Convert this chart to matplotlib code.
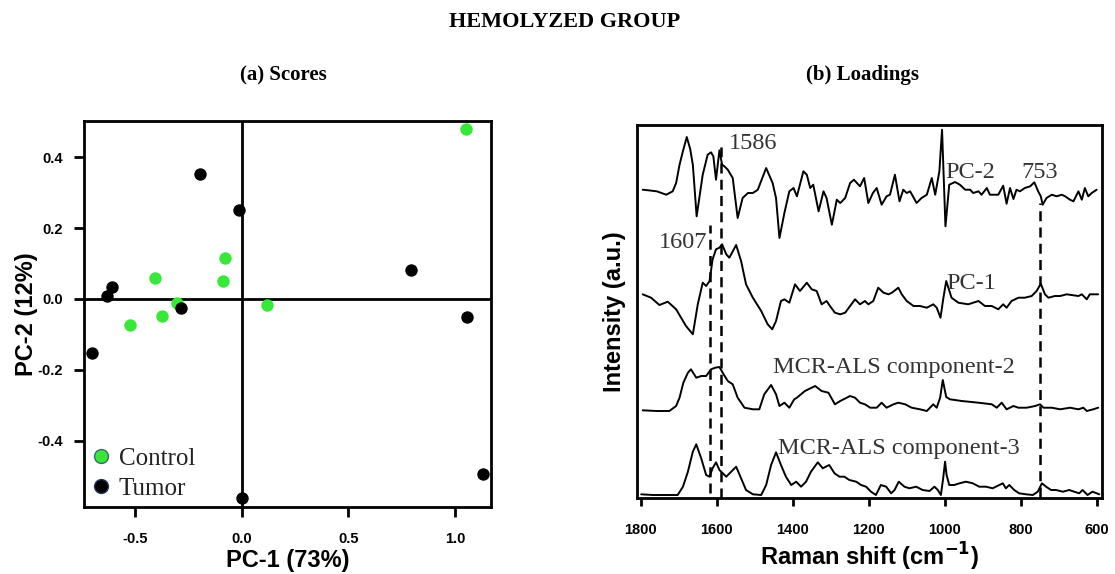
import matplotlib
matplotlib.use("Agg")
import matplotlib.pyplot as plt
from matplotlib.lines import Line2D

plt.rcParams['axes.unicode_minus'] = False

SERIF = 'Liberation Serif'
SANS = 'Liberation Sans'

# ---- (a) scores ----
control_pc1 = [1.053, -0.077, -0.089, -0.408, -0.305, -0.371, -0.523, 0.119]
control_pc2 = [0.480, 0.115, 0.051, 0.058, -0.011, -0.049, -0.073, -0.018]
tumor_pc1 = [-0.194, -0.011, -0.606, -0.629, -0.282, -0.703, 0.793, 1.055, 1.130, 0.0]
tumor_pc2 = [0.353, 0.250, 0.033, 0.008, -0.025, -0.152, 0.083, -0.050, -0.493, -0.562]

score_xticks = [-0.5, 0.0, 0.5, 1.0]
score_yticks = [-0.4, -0.2, 0.0, 0.2, 0.4]

# ---- (b) loadings (wavenumber, intensity a.u.) ----
pc2_wn = [1795, 1780, 1758, 1733, 1716, 1707, 1698, 1689, 1679, 1670, 1663, 1653, 1637, 1624,
          1615, 1609, 1602, 1593, 1586, 1580, 1571, 1558, 1545, 1532, 1518, 1505, 1492, 1470,
          1453, 1444, 1435, 1422, 1409, 1398, 1389, 1372, 1363, 1354, 1346, 1332, 1319, 1311,
          1297, 1284, 1275, 1262, 1249, 1239, 1223, 1212, 1201, 1189, 1179, 1166, 1153, 1144,
          1131, 1119, 1109, 1100, 1091, 1074, 1061, 1047, 1034, 1025, 1014, 1007, 998, 988, 973,
          960, 946, 933, 925, 911, 903, 889, 881, 859, 846, 837, 828, 819, 811, 802, 789, 775,
          764, 754, 747, 742, 732, 718, 705, 692, 683, 670, 661, 648, 639, 631, 622, 613, 600]
pc2_int = [3.3, 2.7, 1.7, -1.7, 1.7, 10, 28.3, 42, 56, 44, 28.3, -23.3, 18.3, 38.3,
           40.7, 36.7, 13.3, 42.7, 28.3, 26.7, 23.3, 15, -25, -5, 0, 0, 3.3, 25,
           10, -5, -45, -20, 1.7, 5, -3.3, 21.7, 18.3, 5, 8.3, -18.3, 1.7, -5,
           -31.7, -6.7, -10, -5, 10, 13.3, 6.7, 15, -10, 0, 5, -11.7, -3.3, -1.7,
           18.3, -8.3, 3.3, 0, 1.7, -10, -5, -1.7, 15, -1.7, 21.7, 63.3, -33.3, 8.3, 11,
           8.3, 3.3, 3.3, 0, 1.7, -1.7, 5, -1.7, -1.7, 7.3, -10.7, 5, -6, 3.3, 1.7, 5, 6.7,
           10.7, 1.7, -3.3, -11.7, -5, -1.7, -3.3, -1.7, -3.3, -6.7, -8.3, 1.7, -6.7, 5, -3.3, 0, 3.3]

pc1_wn = [1795, 1773, 1751, 1729, 1707, 1681, 1663, 1650, 1637, 1628, 1619, 1611, 1602, 1593,
          1586, 1575, 1567, 1549, 1536, 1523, 1505, 1483, 1466, 1454, 1444, 1431, 1422, 1409,
          1394, 1381, 1363, 1350, 1337, 1324, 1311, 1302, 1289, 1275, 1262, 1249, 1236, 1223,
          1210, 1201, 1188, 1175, 1161, 1148, 1139, 1122, 1113, 1100, 1082, 1065, 1047, 1030,
          1021, 1011, 1004, 996, 982, 964, 938, 911, 894, 876, 859, 846, 837, 824, 806, 789,
          771, 758, 747, 736, 727, 710, 696, 679, 661, 648, 639, 626, 618, 596]
pc1_int = [1.7, -1.7, -9, -5.7, -13.3, -30, -38.3, -8.3, 13.3, 10, 15, 36.7, 46.7, 48.3,
           51.7, 41.7, 38.3, 51, 35, 11.7, -1.7, -15, -28.3, -33.3, -25, -5, -3.3, -6.7,
           11.7, 5, 13.3, 6.7, 5, -8.3, -5, -10, -16.7, -18.3, -16.7, -10, -3.3, -8.3,
           -5, -8.3, -5, 8.3, 3.3, 1.7, 3.3, 8.3, 1.7, -5, -10, -10, -11.7, -8.3,
           -11.7, -21.7, -3.3, 15, -1.7, -6.7, -8.3, -5, -10, -10, -13.3, -8.3, -11.7, -5, -1.7, -1.7,
           0, 5, 12.3, 1.7, -1.7, 0, 0, 1.7, 0.7, 0, 1.7, -3.3, 1.7, 1.7]

mcr2_wn = [1795, 1758, 1725, 1707, 1698, 1688, 1676, 1668, 1654, 1641, 1628, 1615, 1604, 1593,
           1582, 1571, 1558, 1545, 1527, 1505, 1488, 1475, 1457, 1444, 1435, 1422, 1409, 1396,
           1389, 1368, 1341, 1324, 1306, 1289, 1275, 1249, 1236, 1223, 1210, 1196, 1179, 1166,
           1153, 1135, 1122, 1104, 1087, 1065, 1047, 1030, 1021, 1012, 1005, 996, 986, 955,
           911, 876, 863, 850, 837, 819, 806, 784, 762, 749, 740, 718, 696, 670, 648, 635,
           626, 609, 596]
mcr2_int = [0.7, 0, 0, 5, 13.3, 28.3, 38.3, 41.7, 33.3, 35, 35, 41.7, 43.3, 44,
            36.7, 30, 26.7, 13.3, 3.3, 1.7, 1.7, 16.7, 26, 16.7, 5, 8.3, 3.3, 11.7,
            13.3, 20, 25, 20, 18.3, 6.7, 10, 15, 13.3, 8.3, 6.7, 3.3, 3.3, 8.3,
            3.3, 6.7, 8.3, 6.7, 3.3, 1.7, 0, 6.7, 3.3, 13.3, 31, 14, 11.7, 10,
            8.3, 6.7, 3.3, 8.3, 1.7, 5, 3.3, 3.3, 5, 6.7, 3.3, 3.3, 1.7, 3.3, 1.7, 3.3,
            0, 1.7, 3.3]

mcr3_wn = [1799, 1768, 1733, 1703, 1689, 1676, 1663, 1654, 1641, 1628, 1619, 1611, 1602, 1593,
           1584, 1575, 1562, 1549, 1536, 1523, 1505, 1483, 1470, 1457, 1444, 1431, 1418, 1404,
           1391, 1378, 1365, 1352, 1334, 1321, 1304, 1290, 1277, 1264, 1251, 1233, 1220, 1207,
           1194, 1181, 1168, 1154, 1141, 1132, 1121, 1106, 1093, 1075, 1058, 1040, 1027, 1018,
           1010, 1004, 999, 995, 988, 975, 961, 944, 926, 909, 891, 874, 856, 847, 839, 830,
           817, 804, 786, 768, 755, 744, 733, 720, 707, 689, 672, 659, 646, 637, 624, 611, 593]
mcr3_int = [0.7, 0, 0, 0, 8.3, 23.3, 43.3, 50.7, 36.7, 20, 18.3, 26.7, 32.7, 25,
            21.7, 18.3, 23.3, 28.3, 16.7, 5, 0.7, 0, 10, 30, 42.7, 30, 18.3, 10,
            13.3, 8.3, 13.3, 23.3, 32.7, 26.7, 30, 21.7, 18.3, 18.3, 15, 13.3, 10, 8.3,
            3.3, 0, 10, 8.3, 1.7, 5, 13.3, 8.3, 6.7, 8.3, 5, 4, 8.3, 5,
            0, 16.7, 33.3, 20, 10, 10, 11.7, 13.3, 11.7, 8.3, 8.3, 6.7, 10, 11.7, 6.7, 10,
            5, 1.7, 0.7, 0, 3.3, 11.7, 8.3, 5, 5, 3.3, 5, 3.3, 1.7, 5, 0, 3.3, 0.7]

trace_names = ['PC-2', 'PC-1', 'MCR-ALS component-2', 'MCR-ALS component-3']
band_labels = ['1607', '1586', '753']
raman_xticks = [1800, 1600, 1400, 1200, 1000, 800, 600]

fig = plt.figure(figsize=(11.15, 5.74), dpi=100)

# ---------------- scores ----------------
ax1 = fig.add_axes([0.0753, 0.1167, 0.365, 0.6725])
ax1.axhline(0, color='black', lw=2, zorder=1)
ax1.axvline(0, color='black', lw=2, zorder=1)
ax1.scatter(control_pc1, control_pc2, s=80, color='#38e838', zorder=3, linewidths=0)
ax1.scatter(tumor_pc1, tumor_pc2, s=80, color='black', zorder=3, linewidths=0)
ax1.set_xlim(-0.739, 1.169)
ax1.set_ylim(-0.587, 0.502)
ax1.set_xticks(score_xticks)
ax1.set_xticklabels([f"{v:.1f}" for v in score_xticks])
ax1.set_yticks(score_yticks)
ax1.set_yticklabels([f"{v:.1f}" for v in score_yticks])
ax1.tick_params(axis='x', direction='out', length=7, width=2, labelsize=10.5, pad=11)
ax1.tick_params(axis='y', direction='out', length=7, width=2, labelsize=10.5, pad=8)
for lab in ax1.get_xticklabels() + ax1.get_yticklabels():
    lab.set_fontfamily(SANS)
    lab.set_fontweight('bold')
for sp in ax1.spines.values():
    sp.set_linewidth(2)
ax1.set_xlabel('PC-1 (73%)', fontfamily=SANS, fontweight='bold', fontsize=17, labelpad=2)
ax1.set_ylabel('PC-2 (12%)', fontfamily=SANS, fontweight='bold', fontsize=17, labelpad=0)

handles = [
    Line2D([], [], ls='none', marker='o', markersize=10, markerfacecolor='#38e838',
           markeredgecolor='#3a6a70', markeredgewidth=1),
    Line2D([], [], ls='none', marker='o', markersize=10, markerfacecolor='black',
           markeredgecolor='#25365a', markeredgewidth=1),
]
ax1.legend(handles, ['Control', 'Tumor'], loc='lower left', frameon=False,
           prop={'family': SERIF, 'size': 18}, handlelength=0.8, handletextpad=0.3,
           labelspacing=0.3, borderaxespad=0.1, borderpad=0.2,
           labelcolor='#222222')

# ---------------- loadings ----------------
ax2 = fig.add_axes([0.5713, 0.1324, 0.417, 0.6498])
offsets = [305, 202, 87, 3]
traces = [(pc2_wn, pc2_int), (pc1_wn, pc1_int), (mcr2_wn, mcr2_int), (mcr3_wn, mcr3_int)]
for (wn, inten), off in zip(traces, offsets):
    ax2.plot(wn, [v + off for v in inten], color='black', lw=1.4,
             solid_joinstyle='round', solid_capstyle='round')

# dashed band markers (positions as drawn)
dash = (0, (4, 2.5))
ax2.plot([1618, 1618], [5, 273], color='black', lw=1.8, ls=dash)
ax2.plot([1589, 1589], [0, 351], color='black', lw=1.8, ls=dash)
ax2.plot([749, 749], [1, 295], color='black', lw=1.8, ls=dash)

txt = dict(fontfamily=SERIF, fontsize=17.5, color='#333333')
ax2.text(1688, 256, band_labels[0], ha='center', va='center', **txt)
ax2.text(1504, 355, band_labels[1], ha='center', va='center', **txt)
ax2.text(749, 326, band_labels[2], ha='center', va='center', **txt)
ax2.text(999, 326, trace_names[0], ha='left', va='center', **txt)
ax2.text(995, 215, trace_names[1], ha='left', va='center', **txt)
ax2.text(1134, 131, trace_names[2], ha='center', va='center', **txt)
ax2.text(1121, 50, trace_names[3], ha='center', va='center', **txt)

ax2.set_xlim(1810, 586)
ax2.set_ylim(0, 373)
ax2.set_xticks(raman_xticks)
ax2.set_xticklabels([str(v) for v in raman_xticks])
ax2.set_yticks([])
ax2.tick_params(axis='x', direction='out', length=6, width=2, labelsize=10.5, pad=12)
for lab in ax2.get_xticklabels():
    lab.set_fontfamily(SANS)
    lab.set_fontweight('bold')
for sp in ax2.spines.values():
    sp.set_linewidth(2)
ax2.set_xlabel(r'Raman shift (cm$^{\mathbf{-1}}$)', fontfamily=SANS, fontweight='bold',
               fontsize=17, labelpad=3)
ax2.set_ylabel('Intensity (a.u.)', fontfamily=SANS, fontweight='bold', fontsize=17, labelpad=8)

# titles
title_kw = dict(ha='center', va='center', fontfamily=SERIF, fontweight='bold')
fig.text(565 / 1115, 1 - 22 / 574, 'HEMOLYZED GROUP', fontsize=16, **title_kw)
fig.text(283 / 1115, 1 - 75 / 574, '(a) Scores', fontsize=15, **title_kw)
fig.text(862 / 1115, 1 - 75 / 574, '(b) Loadings', fontsize=15, **title_kw)

fig.savefig('out.png', dpi=100)
